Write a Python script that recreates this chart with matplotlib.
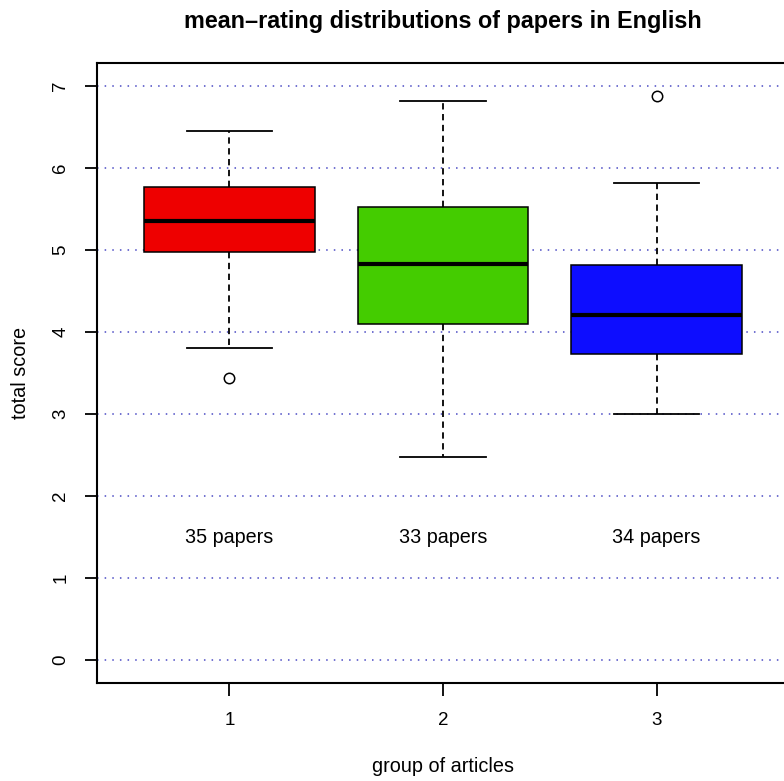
import matplotlib
matplotlib.use("Agg")
import matplotlib.pyplot as plt

plt.rcParams['font.family'] = ['Liberation Sans', 'DejaVu Sans']

groups = [1, 2, 3]
group_labels = ["1", "2", "3"]
whisker_low = [3.80, 2.47, 3.00]
q1 = [4.97, 4.10, 3.73]
median = [5.35, 4.83, 4.21]
q3 = [5.77, 5.52, 4.82]
whisker_high = [6.45, 6.82, 5.82]
outliers = [[3.44], [], [6.88]]
n_papers = [35, 33, 34]
box_colors = ["#EE0000", "#44CC00", "#0D0DFF"]
y_ticks = [0, 1, 2, 3, 4, 5, 6, 7]

fig = plt.figure(figsize=(7.84, 7.81), dpi=100)
ax = fig.add_axes([97 / 784, 98 / 781, 692 / 784, 620 / 781])

for y in y_ticks:
    ax.axhline(y, color="#4a4ac4", lw=1.1, ls=(0, (1, 4)), zorder=0)

stats = []
for i in range(len(groups)):
    stats.append(dict(whislo=whisker_low[i], q1=q1[i], med=median[i], q3=q3[i],
                      whishi=whisker_high[i], fliers=outliers[i]))

bp = ax.bxp(stats, positions=groups, widths=0.8, patch_artist=True,
            showfliers=True,
            boxprops=dict(linewidth=1.1, edgecolor="black"),
            medianprops=dict(color="black", linewidth=3.0, solid_capstyle="butt"),
            whiskerprops=dict(color="black", linewidth=1.3, linestyle=(0, (3.5, 2.5))),
            capprops=dict(color="black", linewidth=1.3),
            flierprops=dict(marker="o", markerfacecolor="none", markeredgecolor="black",
                            markersize=7.5, markeredgewidth=1.1))
for patch, c in zip(bp["boxes"], box_colors):
    patch.set_facecolor(c)
for cap in bp["caps"]:
    x0, x1 = cap.get_xdata()
    xm = (x0 + x1) / 2
    cap.set_xdata([xm - 0.2, xm + 0.2])

for g, n in zip(groups, n_papers):
    ax.text(g, 1.5, f"{n} papers", ha="center", va="center", fontsize=14.2)

ax.set_xlim(0.38, 3.62)
ax.set_ylim(-0.28, 7.28)
ax.set_xticks(groups)
ax.set_xticklabels(group_labels)
ax.set_yticks(y_ticks)
ax.set_yticklabels([str(v) for v in y_ticks], rotation=90, va="center")
ax.tick_params(axis="both", length=9, width=1.3, labelsize=13.5)
ax.tick_params(axis="x", pad=12)
ax.tick_params(axis="y", pad=11)
for s in ax.spines.values():
    s.set_linewidth(1.5)

ax.set_xlabel("group of articles", fontsize=14.3, labelpad=20)
ax.set_ylabel("total score", fontsize=14.3, labelpad=16)
ax.set_title("mean\u2013rating distributions of papers in English",
             fontsize=16.8, fontweight="bold", pad=25)

fig.savefig("out.png", dpi=100)
